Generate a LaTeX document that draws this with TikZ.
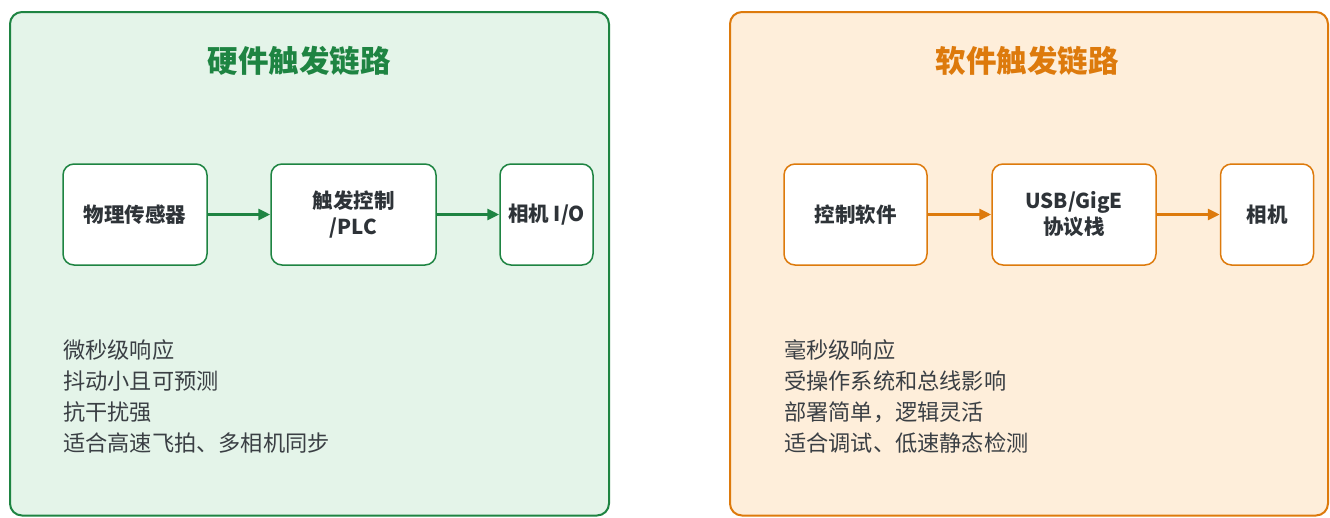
\documentclass[tikz,border=0pt]{standalone}
\usepackage{fontspec}
\setmainfont{Noto Sans CJK SC}
\usetikzlibrary{arrows.meta}
\definecolor{gline}{HTML}{1E8442}
\definecolor{gfill}{HTML}{E4F4E9}
\definecolor{oline}{HTML}{DD7A0C}
\definecolor{ofill}{HTML}{FEEEDA}
\definecolor{boxtext}{HTML}{2E3338}
\definecolor{bodytext}{HTML}{3A3F44}
\begin{document}
\begin{tikzpicture}[x=1pt,y=-1pt,
  panel/.style={rounded corners=12pt, line width=2pt},
  stepbox/.style={rectangle, rounded corners=11pt, fill=white, line width=1.5pt,
    minimum height=101pt, inner sep=0pt, align=center, text=boxtext,
    font=\fontsize{20.5}{26}\selectfont\bfseries},
  title/.style={font=\fontsize{30.5}{35}\selectfont\bfseries, inner sep=0pt},
  body/.style={anchor=base west, inner sep=0pt, text=bodytext,
    font=\fontsize{22.2}{27}\selectfont},
  flow/.style={line width=3.2pt, -{Triangle[length=12pt,width=11pt]}}
]
\useasboundingbox (0,0) rectangle (1330,517);
% panels
\draw[panel, draw=gline, fill=gfill] (10,12) rectangle (609,515.5);
\draw[panel, draw=oline, fill=ofill] (730,12) rectangle (1328,515.5);
% titles
\node[title, text=gline] (tL) at (299,61) {硬件触发链路};
\node[title, text=oline] (tR) at (1027,61) {软件触发链路};
% left boxes
\node[stepbox, draw=gline, minimum width=144pt] (a1) at (135,214.5) {物理传感器};
\node[stepbox, draw=gline, minimum width=165pt] (a2) at (353.5,214.5) {触发控制\\/PLC};
\node[stepbox, draw=gline, minimum width=93pt] (a3) at (546.5,214.5) {相机 I/O};
\draw[flow, draw=gline, fill=gline] (a1) -- (a2);
\draw[flow, draw=gline, fill=gline] (a2) -- (a3);
% right boxes
\node[stepbox, draw=oline, minimum width=143pt] (b1) at (855.5,214.5) {控制软件};
\node[stepbox, draw=oline, minimum width=164pt] (b2) at (1074,214.5) {USB/GigE\\协议栈};
\node[stepbox, draw=oline, minimum width=93pt] (b3) at (1267,214.5) {相机};
\draw[flow, draw=oline, fill=oline] (b1) -- (b2);
\draw[flow, draw=oline, fill=oline] (b2) -- (b3);
% left body
\node[body] (l1) at (63,358.5) {微秒级响应};
\node[body] (l2) at (63,389.5) {抖动小且可预测};
\node[body] (l3) at (63,420.5) {抗干扰强};
\node[body] (l4) at (63,451.5) {适合高速飞拍、多相机同步};
% right body
\node[body] (r1) at (784,358.5) {毫秒级响应};
\node[body] (r2) at (784,389.5) {受操作系统和总线影响};
\node[body] (r3) at (784,420.5) {部署简单，逻辑灵活};
\node[body] (r4) at (784,451.5) {适合调试、低速静态检测};
\end{tikzpicture}
\end{document}
